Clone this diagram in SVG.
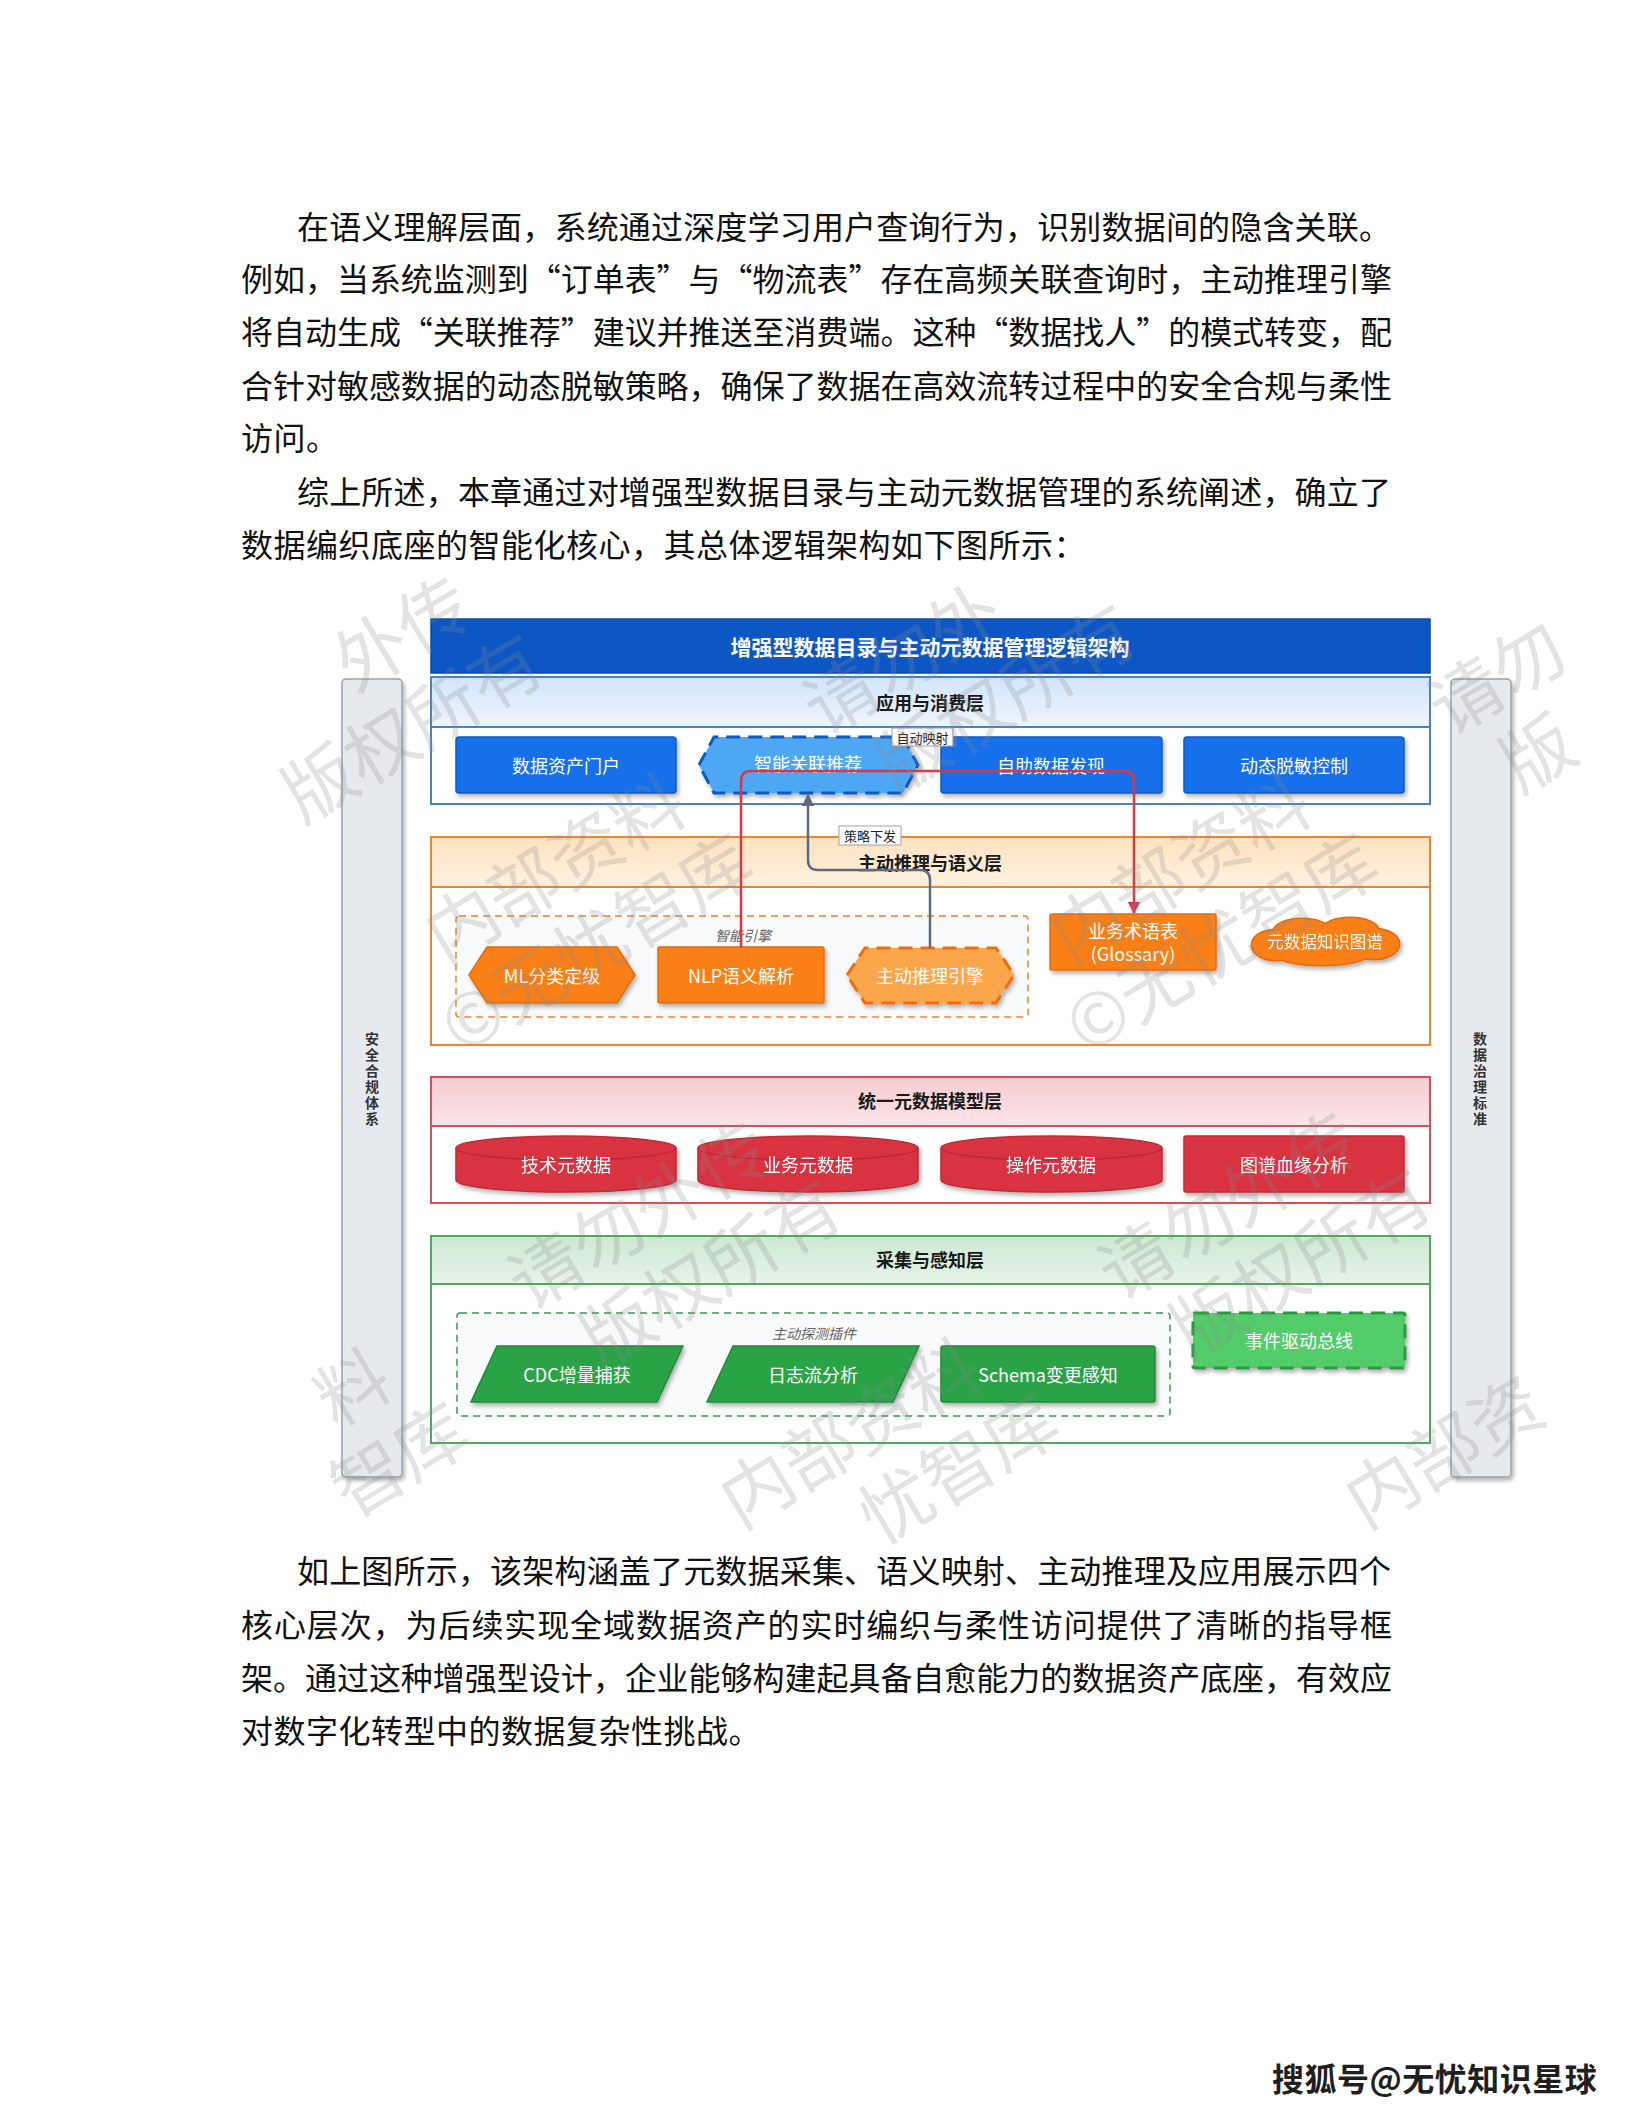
<svg xmlns="http://www.w3.org/2000/svg" width="1632" height="2112" viewBox="0 0 1632 2112">
<style>
.para{font-family:"Noto Sans CJK SC","Noto Sans CJK JP",sans-serif;font-size:32px;fill:#111;dominant-baseline:central}
.d{font-family:"Noto Sans CJK SC","Noto Sans CJK JP",sans-serif;text-anchor:middle;dominant-baseline:central}
.nt{font-size:18px;fill:#fff}
.lt{font-size:18px;font-weight:bold;fill:#1a1a1a}
.tt{font-size:21px;font-weight:bold;fill:#fff}
.gl{font-size:14px;font-style:italic;fill:#666}
.el{font-size:13px;fill:#222}
.st{font-size:14px;font-weight:bold;fill:#333}
.wm{font-family:"Noto Sans CJK SC",sans-serif;font-size:72px;fill:#8c8c8c;fill-opacity:0.24}
.blue{fill:#1270ea;stroke:#0b5bc7;stroke-width:1.5}
.orange{fill:#f97f18;stroke:#e26c0b;stroke-width:1.5}
.red{fill:#d9323f;stroke:#bd2a36;stroke-width:1.5}
.green{fill:#2aa346;stroke:#1f8a38;stroke-width:1.5}
.lay{fill:#fff;stroke-width:2}
</style>
<defs>
<filter id="sh" x="-10%" y="-20%" width="125%" height="150%">
<feDropShadow dx="2" dy="3" stdDeviation="2.2" flood-color="#000" flood-opacity="0.3"/>
</filter>
<linearGradient id="gBlue" x1="0" y1="0" x2="0" y2="1"><stop offset="0" stop-color="#d2e4fb"/><stop offset="1" stop-color="#eef5fe"/></linearGradient>
<linearGradient id="gOrange" x1="0" y1="0" x2="0" y2="1"><stop offset="0" stop-color="#ffe2bf"/><stop offset="1" stop-color="#fff1e1"/></linearGradient>
<linearGradient id="gRed" x1="0" y1="0" x2="0" y2="1"><stop offset="0" stop-color="#f6cbd1"/><stop offset="1" stop-color="#fbe5e8"/></linearGradient>
<linearGradient id="gGreen" x1="0" y1="0" x2="0" y2="1"><stop offset="0" stop-color="#cde8d1"/><stop offset="1" stop-color="#e7f4e9"/></linearGradient>
<marker id="arRed" viewBox="0 0 10 10" refX="9" refY="5" markerWidth="5" markerHeight="5" orient="auto" markerUnits="strokeWidth"><path d="M0,0 L10,5 L0,10 Z" fill="#dc3545"/></marker>
<marker id="arGray" viewBox="0 0 10 10" refX="9" refY="5" markerWidth="5" markerHeight="5" orient="auto" markerUnits="strokeWidth"><path d="M0,0 L10,5 L0,10 Z" fill="#5f6b7a"/></marker>
</defs>
<rect x="0" y="0" width="1632" height="2112" fill="#ffffff"/>

<g id="text-before">
<text class="para" x="297" y="225" textLength="1094" lengthAdjust="spacing">在语义理解层面，系统通过深度学习用户查询行为，识别数据间的隐含关联。</text>
<text class="para" x="241" y="277" textLength="1151" lengthAdjust="spacing">例如，当系统监测到“订单表”与“物流表”存在高频关联查询时，主动推理引擎</text>
<text class="para" x="241" y="330" textLength="1151" lengthAdjust="spacing">将自动生成“关联推荐”建议并推送至消费端。这种“数据找人”的模式转变，配</text>
<text class="para" x="241" y="384" textLength="1151" lengthAdjust="spacing">合针对敏感数据的动态脱敏策略，确保了数据在高效流转过程中的安全合规与柔性</text>
<text class="para" x="241" y="436" letter-spacing="0.5">访问。</text>
<text class="para" x="297" y="490" textLength="1094" lengthAdjust="spacing">综上所述，本章通过对增强型数据目录与主动元数据管理的系统阐述，确立了</text>
<text class="para" x="241" y="543" letter-spacing="0.5">数据编织底座的智能化核心，其总体逻辑架构如下图所示：</text>
</g>

<g id="side-left">
<rect x="342" y="679" width="60" height="798" rx="4" fill="#e6e9ee" stroke="#9aa1aa" stroke-width="1.5" filter="url(#sh)"/>
<text class="d st" x="372"><tspan x="372" y="1038">安</tspan><tspan x="372" y="1054">全</tspan><tspan x="372" y="1070">合</tspan><tspan x="372" y="1086">规</tspan><tspan x="372" y="1102">体</tspan><tspan x="372" y="1118">系</tspan></text>
</g>
<g id="side-right">
<rect x="1451" y="679" width="60" height="798" rx="4" fill="#e6e9ee" stroke="#9aa1aa" stroke-width="1.5" filter="url(#sh)"/>
<text class="d st" x="1480"><tspan x="1480" y="1038">数</tspan><tspan x="1480" y="1054">据</tspan><tspan x="1480" y="1070">治</tspan><tspan x="1480" y="1086">理</tspan><tspan x="1480" y="1102">标</tspan><tspan x="1480" y="1118">准</tspan></text>
</g>

<g id="title">
<rect x="431" y="619" width="999" height="54" fill="#0d57c5" stroke="#0a49a8" stroke-width="1.5"/>
<text class="d tt" x="930" y="646">增强型数据目录与主动元数据管理逻辑架构</text>
</g>

<g id="layer-app">
<rect class="lay" x="431" y="677" width="999" height="127" stroke="#4a80c8"/>
<rect x="431" y="677" width="999" height="50" fill="url(#gBlue)" stroke="#4a80c8" stroke-width="2"/>
<text class="d lt" x="930" y="702">应用与消费层</text>
</g>
<g id="n-portal"><rect class="blue" x="456" y="737" width="220" height="56" rx="3" filter="url(#sh)"/><text class="d nt" x="566" y="765">数据资产门户</text></g>
<g id="n-recommend"><polygon points="699,765 714,737 903,737 918,765 903,793 714,793" fill="#4ea7f3" stroke="#0d5ac0" stroke-width="3" stroke-dasharray="14 8" filter="url(#sh)"/><text class="d nt" x="808" y="763">智能关联推荐</text></g>
<g id="n-discover"><rect class="blue" x="941" y="737" width="221" height="56" rx="3" filter="url(#sh)"/><text class="d nt" x="1051" y="765">自助数据发现</text></g>
<g id="n-mask"><rect class="blue" x="1184" y="737" width="220" height="56" rx="3" filter="url(#sh)"/><text class="d nt" x="1294" y="765">动态脱敏控制</text></g>

<g id="layer-reason">
<rect class="lay" x="431" y="837" width="999" height="208" stroke="#f0832f"/>
<rect x="431" y="837" width="999" height="50" fill="url(#gOrange)" stroke="#f0832f" stroke-width="2"/>
<text class="d lt" x="930" y="862">主动推理与语义层</text>
</g>
<g id="grp-engine">
<rect x="456" y="916" width="572" height="101" rx="3" fill="#f9fafb" stroke="#f0832f" stroke-width="1.5" stroke-dasharray="7 5"/>
<text class="d gl" x="743" y="935">智能引擎</text>
</g>
<g id="n-ml"><polygon class="orange" points="469,975 487,947 617,947 635,975 617,1003 487,1003" filter="url(#sh)"/><text class="d nt" x="552" y="975">ML分类定级</text></g>
<g id="n-nlp"><rect class="orange" x="658" y="947" width="166" height="56" rx="2" filter="url(#sh)"/><text class="d nt" x="741" y="975">NLP语义解析</text></g>
<g id="n-engine"><polygon points="847,975 865,948 996,948 1014,975 996,1003 865,1003" fill="#fba64c" stroke="#ee6e10" stroke-width="3" stroke-dasharray="14 8" filter="url(#sh)"/><text class="d nt" x="930" y="975">主动推理引擎</text></g>
<g id="n-glossary"><rect class="orange" x="1050" y="914" width="166" height="56" rx="2" filter="url(#sh)"/><text class="d nt" x="1133" y="930">业务术语表</text><text class="d nt" x="1133" y="953">(Glossary)</text></g>
<g id="n-kg" filter="url(#sh)">
<g fill="#f97f18" stroke="#e26c0b" stroke-width="3">
<ellipse cx="1325" cy="942" rx="60" ry="18"/><ellipse cx="1276" cy="945" rx="24" ry="15"/><ellipse cx="1374" cy="944" rx="25" ry="15"/><ellipse cx="1302" cy="931" rx="28" ry="12"/><ellipse cx="1350" cy="930" rx="28" ry="12"/><ellipse cx="1322" cy="955" rx="45" ry="10"/>
</g>
<g fill="#f97f18">
<ellipse cx="1325" cy="942" rx="60" ry="18"/><ellipse cx="1276" cy="945" rx="24" ry="15"/><ellipse cx="1374" cy="944" rx="25" ry="15"/><ellipse cx="1302" cy="931" rx="28" ry="12"/><ellipse cx="1350" cy="930" rx="28" ry="12"/><ellipse cx="1322" cy="955" rx="45" ry="10"/>
</g>
<text class="d" x="1325" y="941" font-size="16.5" fill="#fff">元数据知识图谱</text>
</g>

<g id="layer-model">
<rect class="lay" x="431" y="1077" width="999" height="126" stroke="#dc4c5a"/>
<rect x="431" y="1077" width="999" height="49" fill="url(#gRed)" stroke="#dc4c5a" stroke-width="2"/>
<text class="d lt" x="930" y="1100">统一元数据模型层</text>
</g>
<g id="n-tech" filter="url(#sh)"><path class="red" d="M456,1148 A110,12 0 0 1 676,1148 L676,1180 A110,12 0 0 1 456,1180 Z"/><path d="M456,1148 A110,12 0 0 0 676,1148" fill="none" stroke="#bd2a36" stroke-width="1.5"/><text class="d nt" x="566" y="1164">技术元数据</text></g>
<g id="n-biz" filter="url(#sh)"><path class="red" d="M698,1148 A110,12 0 0 1 918,1148 L918,1180 A110,12 0 0 1 698,1180 Z"/><path d="M698,1148 A110,12 0 0 0 918,1148" fill="none" stroke="#bd2a36" stroke-width="1.5"/><text class="d nt" x="808" y="1164">业务元数据</text></g>
<g id="n-ops" filter="url(#sh)"><path class="red" d="M941,1148 A110.5,12 0 0 1 1162,1148 L1162,1180 A110.5,12 0 0 1 941,1180 Z"/><path d="M941,1148 A110.5,12 0 0 0 1162,1148" fill="none" stroke="#bd2a36" stroke-width="1.5"/><text class="d nt" x="1051" y="1164">操作元数据</text></g>
<g id="n-lineage"><rect class="red" x="1184" y="1136" width="220" height="56" rx="2" filter="url(#sh)"/><text class="d nt" x="1294" y="1164">图谱血缘分析</text></g>

<g id="layer-collect">
<rect class="lay" x="431" y="1236" width="999" height="207" stroke="#4eaa5c"/>
<rect x="431" y="1236" width="999" height="48" fill="url(#gGreen)" stroke="#4eaa5c" stroke-width="2"/>
<text class="d lt" x="930" y="1259">采集与感知层</text>
</g>
<g id="grp-probe">
<rect x="457" y="1313" width="713" height="103" rx="3" fill="#f9fafb" stroke="#3a9a4a" stroke-width="1.5" stroke-dasharray="7 5"/>
<text class="d gl" x="814" y="1333">主动探测插件</text>
</g>
<g id="n-cdc"><polygon class="green" points="497,1346 683,1346 657,1402 471,1402" filter="url(#sh)"/><text class="d nt" x="577" y="1374">CDC增量捕获</text></g>
<g id="n-log"><polygon class="green" points="733,1346 919,1346 893,1402 707,1402" filter="url(#sh)"/><text class="d nt" x="813" y="1374">日志流分析</text></g>
<g id="n-schema"><rect class="green" x="941" y="1346" width="214" height="56" rx="2" filter="url(#sh)"/><text class="d nt" x="1048" y="1374">Schema变更感知</text></g>
<g id="n-bus"><rect x="1193" y="1313" width="212" height="55" rx="2" fill="#52cc6b" stroke="#2a9a40" stroke-width="3" stroke-dasharray="14 8" filter="url(#sh)"/><text class="d nt" x="1299" y="1340">事件驱动总线</text></g>

<g id="connectors" fill="none">
<path d="M741,947 L741,781 Q741,771 751,771 L1124,771 Q1134,771 1134,781 L1134,913" stroke="#dc3545" stroke-width="2.5" marker-end="url(#arRed)"/>
<path d="M930,948 L930,880 Q930,870 920,870 L818,870 Q808,870 808,860 L808,795" stroke="#5f6b7a" stroke-width="2.5" marker-end="url(#arGray)"/>
<rect x="892" y="728" width="61" height="18" fill="#fff" stroke="#a0a0a0" stroke-width="1"/>
<text class="d el" x="922.5" y="737">自动映射</text>
<rect x="839" y="826" width="62" height="19" fill="#fff" stroke="#a0a0a0" stroke-width="1"/>
<text class="d el" x="870" y="835.5">策略下发</text>
</g>

<g id="watermark">
<g transform="translate(-148,995) rotate(-31)"><text class="wm" x="586" y="0">外传</text><text class="wm" x="474" y="86">版权所有</text></g>
<g transform="translate(445,965) rotate(-31)"><text class="wm" x="0" y="0">内部资料</text><text class="wm" x="442" y="0">请勿外</text><text class="wm" x="-33" y="86">©无忧智库</text><text class="wm" x="474" y="86">版权所有</text></g>
<g transform="translate(1070,965) rotate(-31)"><text class="wm" x="0" y="0">内部资料</text><text class="wm" x="442" y="0">请勿</text><text class="wm" x="-33" y="86">©无忧智库</text><text class="wm" x="474" y="86">版</text></g>
<g transform="translate(150,1540) rotate(-31)"><text class="wm" x="216" y="0">料</text><text class="wm" x="442" y="0">请勿外传</text><text class="wm" x="183" y="86">智库</text><text class="wm" x="474" y="86">版权所有</text></g>
<g transform="translate(740,1530) rotate(-31)"><text class="wm" x="0" y="0">内部资料</text><text class="wm" x="442" y="0">请勿外传</text><text class="wm" x="111" y="86">忧智库</text><text class="wm" x="474" y="86">版权所有</text></g>
<g transform="translate(1365,1530) rotate(-31)"><text class="wm" x="0" y="0">内部资</text></g>
</g>

<g id="text-after">
<text class="para" x="297" y="1569" textLength="1094" lengthAdjust="spacing">如上图所示，该架构涵盖了元数据采集、语义映射、主动推理及应用展示四个</text>
<text class="para" x="241" y="1623" textLength="1151" lengthAdjust="spacing">核心层次，为后续实现全域数据资产的实时编织与柔性访问提供了清晰的指导框</text>
<text class="para" x="241" y="1676" textLength="1151" lengthAdjust="spacing">架。通过这种增强型设计，企业能够构建起具备自愈能力的数据资产底座，有效应</text>
<text class="para" x="241" y="1729" letter-spacing="0.5">对数字化转型中的数据复杂性挑战。</text>
</g>

<g id="source-mark">
<text x="1272" y="2077" font-family="Noto Sans CJK SC, sans-serif" font-size="32" font-weight="bold" letter-spacing="0.5" fill="#1f1f1f" stroke="#ffffff" stroke-width="1" paint-order="stroke" dominant-baseline="central">搜狐号@无忧知识星球</text>
</g>
</svg>
